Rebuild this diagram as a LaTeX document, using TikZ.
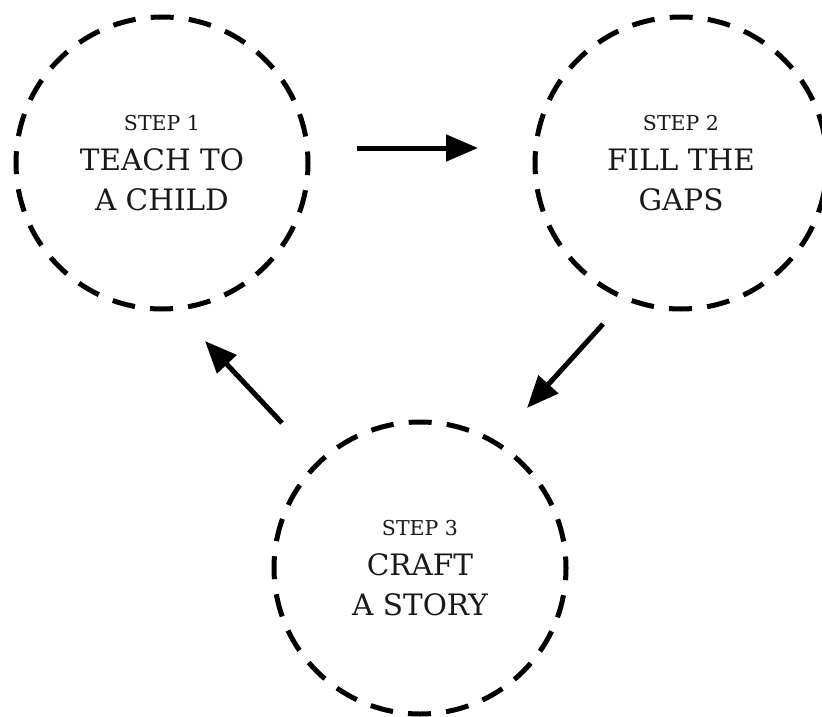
\documentclass[tikz,border=0pt]{standalone}
\usepackage{fontspec}
\setmainfont{DejaVu Serif}
\usetikzlibrary{arrows.meta}
\tikzset{
  stepcircle/.style={circle, draw=black, line width=5pt, minimum size=292pt, inner sep=0pt,
    dash pattern=on 23pt off 15.2pt, dash phase=11.5pt, align=center, text=black!90,
    font=\fontsize{29.5}{40}\selectfont},
  flowarrow/.style={line width=5pt, -{Triangle[length=32pt,width=26pt]}},
}
\newcommand{\steplabel}[1]{{\fontsize{20.5}{37}\selectfont #1}}
\begin{document}
\begin{tikzpicture}[x=1pt,y=-1pt]
\useasboundingbox (0,0) rectangle (822,717);
\node[stepcircle] (c1) at (162,163) {\steplabel{STEP 1}\\TEACH TO\\A CHILD};
\node[stepcircle] (c2) at (681,163) {\steplabel{STEP 2}\\FILL THE\\GAPS};
\node[stepcircle] (c3) at (420,568) {\steplabel{STEP 3}\\CRAFT\\A STORY};
\draw[flowarrow] ([shift={(195,-15)}]c1.center) -- ([shift={(-203,-15)}]c2.center);
\draw[flowarrow] ([shift={(-78,161)}]c2.center) -- ([shift={(107,-160)}]c3.center);
\draw[flowarrow] ([shift={(-138,-145)}]c3.center) -- ([shift={(43,178)}]c1.center);
\end{tikzpicture}
\end{document}
